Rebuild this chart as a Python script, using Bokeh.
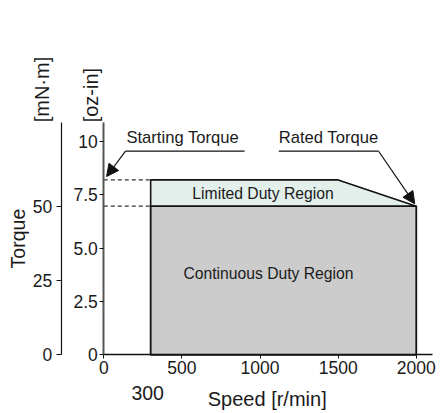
import math
from bokeh.plotting import figure
from bokeh.models import Range1d, LinearAxis, FixedTicker, Label, Arrow, NormalHead
from bokeh.embed import file_html
from bokeh.resources import INLINE

# ---- data ----
speed_ticks = [0, 500, 1000, 1500, 2000]
oz_ticks = [0, 2.5, 5.0, 7.5, 10]
oz_tick_labels = ["0", "2.5", "5.0", "7.5", "10"]
mnm_ticks = [0, 25, 50]
base_speed = 300          # r/min
knee_speed = 1500         # r/min
max_speed = 2000          # r/min
continuous_torque = 6.97  # oz-in (= 50 mN·m)
starting_torque = 8.2     # oz-in

TXT = "#1a1a1a"
REG = "Liberation Sans"

p = figure(width=440, height=413, output_backend="svg", toolbar_location=None,
           x_range=Range1d(-661, 2155), y_range=Range1d(-2.75, 16.61),
           x_axis_type=None, y_axis_type=None, min_border=0)
p.outline_line_color = None
p.extra_y_ranges = {"mnm": Range1d(-19.75, 119.2)}

def style(ax, line_color, line_width, tick_out, standoff):
    ax.axis_line_color = line_color
    ax.axis_line_width = line_width
    ax.major_tick_line_color = "#111"
    ax.major_tick_out = tick_out
    ax.major_tick_in = 0
    ax.minor_tick_out = 0
    ax.minor_tick_in = 0
    ax.major_label_standoff = standoff
    ax.major_label_text_font = REG
    ax.major_label_text_font_size = "17.5px"
    ax.major_label_text_color = TXT

# x axis
xa = LinearAxis(ticker=FixedTicker(ticks=speed_ticks), fixed_location=0, bounds=(0, 2105))
style(xa, "#111", 1.3, 4, 2)
p.add_layout(xa, "below")

# oz-in axis
ya = LinearAxis(ticker=FixedTicker(ticks=oz_ticks), bounds=(0, 10.9), fixed_location=0)
ya.major_label_overrides = {t: l for t, l in zip(oz_ticks, oz_tick_labels)}
style(ya, "#555", 2, 4, 2)
p.add_layout(ya, "left")

# mN·m axis
ma = LinearAxis(y_range_name="mnm", ticker=FixedTicker(ticks=mnm_ticks), bounds=(0, 78.3),
                fixed_location=-272.6)
style(ma, "#111", 1.2, 5, 4)
p.add_layout(ma, "left")

# regions
p.patch([base_speed, base_speed, max_speed, max_speed],
        [0, continuous_torque, continuous_torque, 0],
        fill_color="#cccccc", line_color="#111", line_width=1.8)
p.patch([base_speed, base_speed, knee_speed, max_speed],
        [continuous_torque, starting_torque, starting_torque, continuous_torque],
        fill_color="#e3efeb", line_color="#111", line_width=1.6)

# dashed reference lines
for t in (starting_torque, continuous_torque):
    p.line([0, base_speed], [t, t], line_color="#333", line_width=1.1, line_dash="4 3")

# annotation underlines and arrows
p.line([139, 901], [9.545, 9.545], line_color="#111", line_width=1.2)
p.line([1120, 1759], [9.545, 9.545], line_color="#111", line_width=1.2)
p.add_layout(Arrow(end=NormalHead(size=12, fill_color="#111", line_color="#111"),
                   x_start=139, y_start=9.545, x_end=18, y_end=8.36,
                   line_color="#111", line_width=1.2))
p.add_layout(Arrow(end=NormalHead(size=12, fill_color="#111", line_color="#111"),
                   x_start=1759, y_start=9.545, x_end=1990, y_end=7.08,
                   line_color="#111", line_width=1.2))

def lab(x, y, text, size, align="center", baseline="middle", angle=0.0, x_offset=0):
    p.add_layout(Label(x=x, y=y, text=text, text_font=REG, text_font_size=size,
                       text_align=align, text_baseline=baseline, angle=angle,
                       x_offset=x_offset, text_color=TXT))

lab(145, 10.20, "Starting Torque", "16.6px", align="left")
lab(1120, 10.20, "Rated Torque", "16.6px", align="left")
lab(1019, 7.56, "Limited Duty Region", "15.7px")
lab(1054, 3.82, "Continuous Duty Region", "15.7px")

lab(-552, 5.45, "Torque", "19.5px", angle=math.pi / 2)
lab(-394, 10.9, "[mN·m]", "20px", align="left", angle=math.pi / 2)
lab(-85, 10.9, "[oz-in]", "20px", align="left", angle=math.pi / 2)

lab(base_speed, -1.78, "300", "19.5px", x_offset=-3)
lab(1046, -2.09, "Speed [r/min]", "20px")

open("out.html", "w").write(file_html(p, INLINE))
